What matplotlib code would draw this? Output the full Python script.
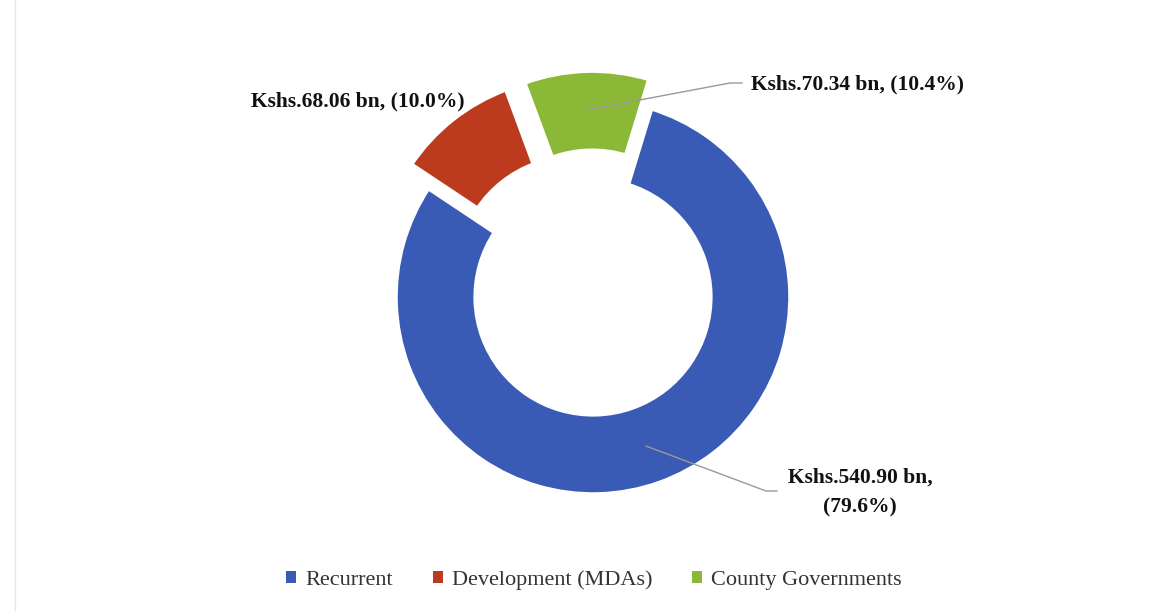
import matplotlib.pyplot as plt
import numpy as np
from matplotlib.patches import Patch
from matplotlib.lines import Line2D

# data
categories = ['Recurrent', 'Development (MDAs)', 'County Governments']
values_bn = [540.90, 68.06, 70.34]
shares = [79.6, 10.0, 10.4]
colors = ['#3A5BB5', '#BC3B1E', '#8BB937']
explode = [0.0, 0.146, 0.146]

W, H = 1158, 611
cx, cy, R = 593, 297, 198   # pie centre / radius in pixels

def px(x, y):
    # pixel (from top-left) -> data units where radius = 1
    return (x - cx) / R, (cy - y) / R

fig = plt.figure(figsize=(W / 100, H / 100), dpi=100)
ax = fig.add_axes([0, 0, 1, 1])

wedges, _ = ax.pie(values_bn, colors=colors, startangle=73, counterclock=False,
                   explode=explode, radius=1.0,
                   wedgeprops=dict(width=0.41, linewidth=4, edgecolor='white'))

ax.set_xlim(px(0, 0)[0], px(W, 0)[0])
ax.set_ylim(px(0, H)[1], px(0, 0)[1])
ax.set_aspect('auto')
ax.axis('off')

def anchor(i, r=0.8):
    w = wedges[i]
    mid = np.deg2rad((w.theta1 + w.theta2) / 2)
    ox, oy = w.center
    return ox + r * np.cos(mid), oy + r * np.sin(mid)

lbl = dict(family='Liberation Serif', fontweight='bold', fontsize=15.5, color='#111111')
line_kw = dict(color='#9a9a9a', lw=1.0)

# Development label (no leader)
x, y = px(465, 101)
ax.text(x, y, f'Kshs.{values_bn[1]:.2f} bn, ({shares[1]:.1f}%)', ha='right', va='center', **lbl)

# County label with leader
a = anchor(2)
k = px(730, 83)
e = px(742, 83)
ax.plot([a[0], k[0], e[0]], [a[1], k[1], e[1]], **line_kw)
x, y = px(751, 84)
ax.text(x, y, f'Kshs.{values_bn[2]:.2f} bn, ({shares[2]:.1f}%)', ha='left', va='center', **lbl)

# Recurrent label with leader
a = anchor(0)
k = px(766, 491)
e = px(777, 491)
ax.plot([a[0], k[0], e[0]], [a[1], k[1], e[1]], **line_kw)
x, y = px(860, 478)
ax.text(x, y, f'Kshs.{values_bn[0]:.2f} bn,', ha='center', va='center', **lbl)
x, y = px(860, 507)
ax.text(x, y, f'({shares[0]:.1f}%)', ha='center', va='center', **lbl)

handles = [Patch(facecolor=c, edgecolor='none') for c in colors]
fig.legend(handles, categories, loc='center', bbox_to_anchor=(594 / W, 1 - 580 / H),
           ncol=3, frameon=False, handlelength=0.45, handleheight=0.45,
           handletextpad=0.4, columnspacing=1.8,
           prop=dict(family='Liberation Serif', size=16), labelcolor='#333333')

# faint page edge on the left
fig.add_artist(Line2D([15 / W, 15 / W], [0, 1], color='#e6e6e6', lw=1))

fig.savefig('out.png', dpi=100, facecolor='white')
